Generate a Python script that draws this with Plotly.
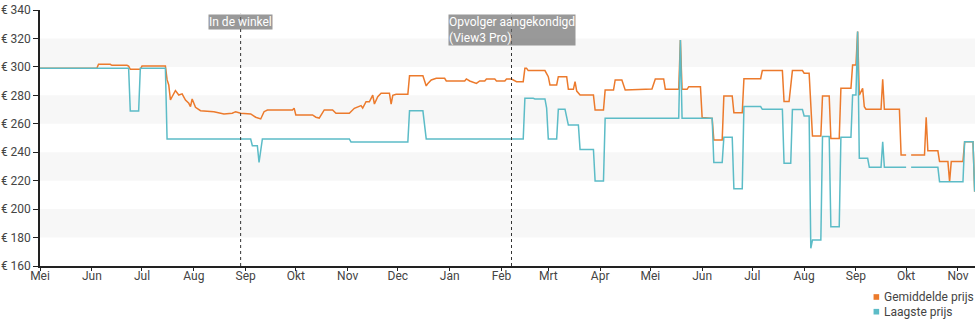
import pandas as pd
import plotly.graph_objects as go

START = "2014-05-01"

# Gemiddelde prijs (average price): day offset from START, price in euro
avg_days = [0, 34, 35, 42, 43, 52, 53, 54, 60, 61, 75, 76, 77, 78, 79, 81, 83, 85, 87, 89, 90, 91, 93, 96,
            104, 110, 115, 117, 120, 126, 129, 132, 134, 136, 151, 152, 153, 163, 165, 167, 170, 175, 177,
            185, 188, 190, 192, 193, 195, 197, 199, 200, 202, 204, 209, 210, 211, 213, 220, 221, 229, 231,
            232, 234, 237, 242, 243, 254, 255, 257, 261, 263, 266, 267, 272, 273, 278, 279, 282, 285, 289,
            290, 291, 292, 302, 304, 305, 309, 310, 315, 316, 319, 320, 321, 323, 331, 332, 337, 338, 343,
            344, 348, 350, 366, 368, 373, 374, 382, 383, 384, 387, 388, 395, 396, 402, 403, 408, 409, 414,
            415, 420, 421, 431, 432, 444, 445, 448, 450, 456, 457, 460, 462, 467, 468, 472, 473, 478, 479,
            485, 486, 488, 489, 490, 492, 493, 494, 503, 504, 505, 514, 515, 518, 519, 521, 529, 530, 531,
            537, 538, 543, 544, 545, 552, 553, 558, 559]
avg_price = [299, 299, 301.8, 301.8, 301.1, 301.1, 300.5, 298.3, 298.3, 300.6, 300.6, 291, 287.3, 276.7, 279,
             283.3, 280.2, 281, 276.7, 274.4, 272, 277.4, 271.6, 269.2,
             268.5, 266.9, 267.4, 268.5, 267.4, 266.9, 264.6, 263.4, 268.5, 269.7, 269.7, 271, 266.2, 266.2,
             264.6, 264, 269.7, 269.7, 267.4,
             267.4, 270.9, 271.6, 272.8, 271, 275.5, 275.5, 280.2, 273.9, 279, 281.4, 281.4, 273.9, 280,
             280.7, 280.7, 293.7, 293.7, 286.6,
             288.4, 290.8, 292, 292, 290.1, 290.1, 291.5, 290.1, 288.4, 290.1, 290.1, 291.5, 291.5, 290.1,
             290.1, 291.5, 291.5, 289.6, 289.6,
             299, 299, 297.4, 297.4, 293.1, 287.3, 287.3, 293.1, 293.1, 284.2, 284.2, 289.6, 283, 280.2,
             280.2, 269.7, 269.7, 283.7, 283.7,
             290.8, 290.8, 283.7, 284.4, 291.5, 291.5, 284.2, 284.2, 318.9, 284.2, 284.2, 286.1, 286.1,
             264.5, 263.8, 248.6, 248.6, 279.5, 279.5,
             267.8, 267.8, 291.7, 291.7, 297.4, 297.4, 275.6, 275.6, 297.4, 297.4, 295.6, 295.6, 251.4,
             251.4, 279.5, 279.5, 249.7, 249.7, 284.9,
             284.9, 301.3, 301.3, 324.8, 280.2, 284.9, 272, 270.2, 270.2, 291.3, 270.2, 270.2, 238, 238,
             None, 238, 238, 264.5, 241,
             241, 233.4, 233.4, 219.3, 233.4, 233.4, 247.4, 247.4, 212.3]

# Laagste prijs (lowest price)
low_days = [0, 53, 54, 59, 60, 75, 76, 126, 127, 130, 131, 133, 185, 186, 220, 221, 229, 231, 289, 290, 295,
            296, 302, 303, 304, 309, 310, 314, 316, 322, 323, 331, 332, 337, 338, 382, 383, 384, 402, 403,
            408, 409, 414, 415, 420, 421, 431, 432, 444, 445, 449, 450, 456, 457, 460, 461, 462, 467, 468,
            472, 473, 478, 479, 485, 486, 488, 489, 490, 495, 496, 503, 504, 505, 518, 519, 521, 537, 538,
            552, 553, 558, 559]
low_price = [299, 299, 269, 269, 299, 299, 249.3, 249.3, 244.6, 244.6, 232.9, 249.3, 249.3, 247.2, 247.2,
             269.1, 269.1, 249.3, 249.3, 277.9, 277.9,
             277.5, 277.5, 271, 249.3, 249.3, 270.2, 270.2, 259.1, 259.1, 241.9, 241.9, 219.8, 219.8, 263.8,
             263.8, 318.9, 263.8, 263.8, 232.7,
             232.7, 250.5, 250.5, 214.4, 214.4, 272.1, 272.1, 270.2, 270.2, 232.2, 232.2, 270, 270, 265.5,
             265.5, 172.4, 178.3, 178.3, 251,
             251, 187.6, 187.6, 250.5, 250.5, 280.2, 280.2, 324.8, 235.7, 235.7, 229.4, 229.4, 247.4, 229.4,
             229.4, None, 229.4, 229.4, 219.3,
             219.3, 247.4, 247.4, 212.3]

month_labels = ["Mei", "Jun", "Jul", "Aug", "Sep", "Okt", "Nov", "Dec", "Jan", "Feb", "Mrt", "Apr",
                "Mei", "Jun", "Jul", "Aug", "Sep", "Okt", "Nov"]
y_ticks = [160, 180, 200, 220, 240, 260, 280, 300, 320, 340]
y_tick_labels = [f"€ {v}" for v in y_ticks]

events = [(120, "In de winkel"), (282, "Opvolger aangekondigd<br>(View3 Pro)")]
series_names = ["Gemiddelde prijs", "Laagste prijs"]

ORANGE = "#ec7a2c"
TEAL = "#5cbcc7"
colors = [ORANGE, TEAL]

start = pd.Timestamp(START)
to_date = lambda ds: [start + pd.Timedelta(days=d) for d in ds]
month_starts = pd.date_range(start, periods=len(month_labels), freq="MS")

fig = go.Figure()
fig.add_trace(go.Scatter(x=to_date(avg_days), y=avg_price, mode="lines", name=series_names[0],
                         line=dict(color=ORANGE, width=1.5), showlegend=False, connectgaps=False))
fig.add_trace(go.Scatter(x=to_date(low_days), y=low_price, mode="lines", name=series_names[1],
                         line=dict(color=TEAL, width=1.5), showlegend=False, connectgaps=False))

shapes = []
annotations = []
# alternating horizontal bands
for lo, hi in zip(y_ticks[1::2], y_ticks[2::2]):
    shapes.append(dict(type="rect", xref="paper", yref="y", x0=0, x1=1, y0=lo, y1=hi,
                       fillcolor="#f7f7f7", line=dict(width=0), layer="below"))
# event markers
for d, label in events:
    xd = start + pd.Timedelta(days=d)
    shapes.append(dict(type="line", xref="x", yref="paper", x0=xd, x1=xd, y0=0, y1=0.985,
                       line=dict(color="#333333", width=1, dash="dot"), layer="above"))
    annotations.append(dict(x=xd, y=0.985, xref="x", yref="paper", text=label, showarrow=False,
                            xanchor="center", yanchor="top", align="left",
                            font=dict(family="Roboto", size=12, color="white"),
                            bgcolor="rgba(110,110,110,0.7)", borderpad=0))
# legend (bottom right, square swatches)
for i, (name, col) in enumerate(zip(series_names, colors)):
    yc = -0.121 - i * 0.0575
    shapes.append(dict(type="rect", xref="paper", yref="paper", x0=0.8915, x1=0.8975,
                       y0=yc - 0.011, y1=yc + 0.011, fillcolor=col, line=dict(width=0)))
    annotations.append(dict(x=0.9005, y=yc, xref="paper", yref="paper", text=name, showarrow=False,
                            xanchor="left", yanchor="middle",
                            font=dict(family="Roboto", size=12, color="#444444")))

fig.update_layout(
    width=980, height=325,
    margin=dict(l=40, r=5, t=10, b=59),
    paper_bgcolor="white", plot_bgcolor="white",
    font=dict(family="Roboto", size=12, color="#444444"),
    shapes=shapes, annotations=annotations, showlegend=False,
    xaxis=dict(range=[start, start + pd.Timedelta(days=559.2)], tickvals=month_starts,
               ticktext=month_labels, ticks="outside", ticklen=3, tickcolor="#222",
               ticklabelstandoff=-5,
               showline=True, linecolor="#222", linewidth=1.5, showgrid=False, zeroline=False,
               tickfont=dict(size=12, color="#444444")),
    yaxis=dict(range=[160, 340], tickvals=y_ticks, ticktext=y_tick_labels, ticks="outside", ticklen=5,
               tickcolor="#222", showline=True, linecolor="#222", linewidth=1.5, showgrid=False,
               zeroline=False, tickfont=dict(size=12, color="#444444"), automargin=False),
)

fig.write_html("out.html")
